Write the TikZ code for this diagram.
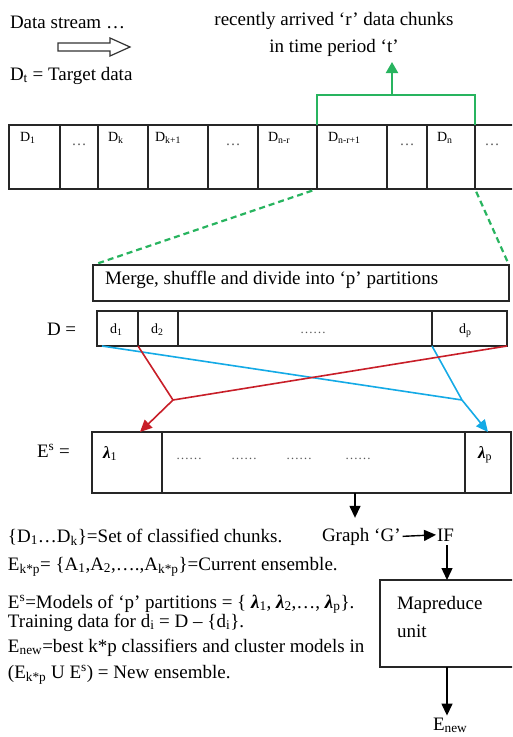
\documentclass[tikz,border=0pt]{standalone}
\usepackage{fontspec}
\setmainfont{Liberation Serif}
\usetikzlibrary{arrows.meta,calc}
\definecolor{grn}{RGB}{40,180,95}
\definecolor{rd}{RGB}{200,30,40}
\definecolor{bl}{RGB}{20,170,230}
\newcommand\sbx[1]{\textsubscript{#1}}
\newcommand\spx[1]{\textsuperscript{#1}}
\newcommand\lam[1]{{\bfseries\itshape λ}\textsubscript{#1}}
\begin{document}
\begin{tikzpicture}[x=1pt,y=-1pt,
  every node/.style={inner sep=0pt, outer sep=0pt},
  txt/.style={font=\fontsize{19}{24}\selectfont, anchor=base west},
  small/.style={font=\fontsize{14}{16}\selectfont, anchor=base west},
  dotsty/.style={font=\fontsize{15}{16}\selectfont, text=black!65, anchor=base},
  cellbox/.style={draw=black!85, line width=1.8pt, anchor=north west},
  arr/.style={line width=1.4pt, black, -{Triangle[width=11pt,length=12pt]}},
  grline/.style={draw=grn, line width=2pt},
  grdash/.style={draw=grn, line width=2.2pt, dash pattern=on 6pt off 4pt},
  redline/.style={draw=rd, line width=1.6pt},
  blueline/.style={draw=bl, line width=1.6pt}
]
\clip (0,0) rectangle (512,737);
\fill[white] (0,0) rectangle (512,737);

% top texts
\node[txt] (stream) at (10,28) {Data stream …};
\node[txt] (target) at (10,80) {D\sbx{t} = Target data};
\node[font=\fontsize{19}{27}\selectfont, align=center, anchor=north] (recent) at (334,12)
  {recently arrived ‘r’ data chunks\\in time period ‘t’};
\draw[line width=1.2pt, draw=black!80, fill=white]
  (58,43) -- (110,43) -- (110,38) -- (130,47) -- (110,56) -- (110,51) -- (58,51) -- cycle;

% chunk row
\node[cellbox, minimum width=51, minimum height=64] (c1) at (9,125) {};
\node[cellbox, minimum width=38, minimum height=64] (c2) at (60,125) {};
\node[cellbox, minimum width=50, minimum height=64] (c3) at (98,125) {};
\node[cellbox, minimum width=60, minimum height=64] (c4) at (148,125) {};
\node[cellbox, minimum width=50, minimum height=64] (c5) at (208,125) {};
\node[cellbox, minimum width=59, minimum height=64] (c6) at (258,125) {};
\node[cellbox, minimum width=70, minimum height=64] (c7) at (317,125) {};
\node[cellbox, minimum width=40, minimum height=64] (c8) at (387,125) {};
\node[cellbox, minimum width=48, minimum height=64] (c9) at (427,125) {};
\node[cellbox, minimum width=60, minimum height=64] (c10) at (475,125) {};
\node[small] (l1) at (20,141) {D\sbx{1}};
\node[dotsty] (l2) at (79,145) {…};
\node[small] (l3) at (108,141) {D\sbx{k}};
\node[small] (l4) at (155,141) {D\sbx{k+1}};
\node[dotsty] (l5) at (233,145) {…};
\node[small] (l6) at (268,141) {D\sbx{n-r}};
\node[small] (l7) at (328,141) {D\sbx{n-r+1}};
\node[dotsty] (l8) at (407,145) {…};
\node[small] (l9) at (437,141) {D\sbx{n}};
\node[dotsty] (l10) at (492,145) {…};

% green connectors
\coordinate (gj) at (392,95);
\coordinate (gtip) at (392,62);
\draw[grline] (c7.north west) |- (gj) -| (c10.north west);
\draw[grline, -{Triangle[width=12pt,length=11pt]}] (gj) -- (gtip);

% merge box
\node[cellbox, minimum width=416, minimum height=36] (merge) at (93,265) {};
\node[txt] (mergetxt) at (105,284) {Merge, shuffle and divide into ‘p’ partitions};
\draw[grdash, shorten <=5pt, shorten >=4pt] (c7.south west) -- (merge.north west);
\draw[grdash, shorten <=3pt, shorten >=4pt] (c10.south west) -- (merge.north east);

% D row
\node[txt] (dlab) at (47,335) {D =};
\node[cellbox, minimum width=41, minimum height=35] (d1) at (97,311) {};
\node[cellbox, minimum width=40, minimum height=35] (d2) at (138,311) {};
\node[cellbox, minimum width=254, minimum height=35] (dm) at (178,311) {};
\node[cellbox, minimum width=75, minimum height=35] (dp) at (432,311) {};
\node[small] (t1) at (110,333) {d\sbx{1}};
\node[small] (t2) at (151,333) {d\sbx{2}};
\node[dotsty, font=\fontsize{13}{14}\selectfont] (tm) at (313,333) {……};
\node[small] (tp) at (459,333) {d\sbx{p}};

% E row
\node[txt] (elab) at (37,457) {E\spx{s} =};
\node[cellbox, minimum width=70, minimum height=61] (e1) at (92,432) {};
\node[cellbox, minimum width=303, minimum height=61] (e2) at (162,432) {};
\node[cellbox, minimum width=46, minimum height=61] (ep) at (465,432) {};
\node[txt, font=\fontsize{17}{20}\selectfont] (lam1) at (103,458) {\lam{1}};
\node[txt, font=\fontsize{17}{20}\selectfont] (lamp) at (478,458) {\lam{p}};
\node[dotsty, font=\fontsize{13}{14}\selectfont] (q1) at (189,459) {……};
\node[dotsty, font=\fontsize{13}{14}\selectfont] (q2) at (244,459) {……};
\node[dotsty, font=\fontsize{13}{14}\selectfont] (q3) at (299,459) {……};
\node[dotsty, font=\fontsize{13}{14}\selectfont] (q4) at (358,459) {……};

% crossing lines
\coordinate (bj) at (462,400);
\coordinate (rj) at (173,400);
\draw[blueline] ($(d1.south west)+(5,0)$) -- (bj);
\draw[blueline] (dp.south west) -- (bj);
\draw[blueline, -{Triangle[width=11pt,length=12pt]}] (bj) -- (ep.north);
\draw[redline] (d1.south east) -- (rj);
\draw[redline] (dp.south east) -- (rj);
\draw[redline, -{Triangle[width=11pt,length=12pt]}] (rj) -- ($(e1.north)+(13,0)$);

% graph / IF / mapreduce
\node[txt] (graph) at (322,541) {Graph ‘G’};
\node[txt] (iff) at (437,541) {IF};
\coordinate (ex) at (355,0);
\draw[arr, shorten >=10pt] (ex |- e2.south) -- (ex |- graph.north);
\draw[arr, shorten <=2pt, shorten >=1pt] (graph.east) -- (iff.west);
\node[cellbox, minimum width=150, minimum height=87] (map) at (380,580) {};
\node[txt] (maptxt1) at (397,609) {Mapreduce};
\node[txt] (maptxt2) at (397,637) {unit};
\coordinate (ax) at (447,0);
\draw[arr, shorten <=4pt] (ax |- iff.south) -- (ax |- map.north);
\node[txt] (enew) at (433,730) {E\sbx{new}};
\draw[arr, shorten >=2pt] (ax |- map.south) -- (ax |- enew.north);

% legend text
\node[txt] (n1) at (8,542) {\{D\sbx{1}…D\sbx{k}\}=Set of classified chunks.};
\node[txt] (n2) at (8,570) {E\sbx{k*p}= \{A\sbx{1},A\sbx{2},….,A\sbx{k*p}\}=Current ensemble.};
\node[txt] (n3) at (8,608) {E\spx{s}=Models of ‘p’ partitions = \{ \lam{1}, \lam{2},…, \lam{p}\}.};
\node[txt] (n4) at (8,627) {Training data for d\sbx{i} = D – \{d\sbx{i}\}.};
\node[txt] (n5) at (8,652) {E\sbx{new}=best k*p classifiers and cluster models in};
\node[txt] (n6) at (8,678) {(E\sbx{k*p} U E\spx{s}) = New ensemble.};
\end{tikzpicture}
\end{document}
